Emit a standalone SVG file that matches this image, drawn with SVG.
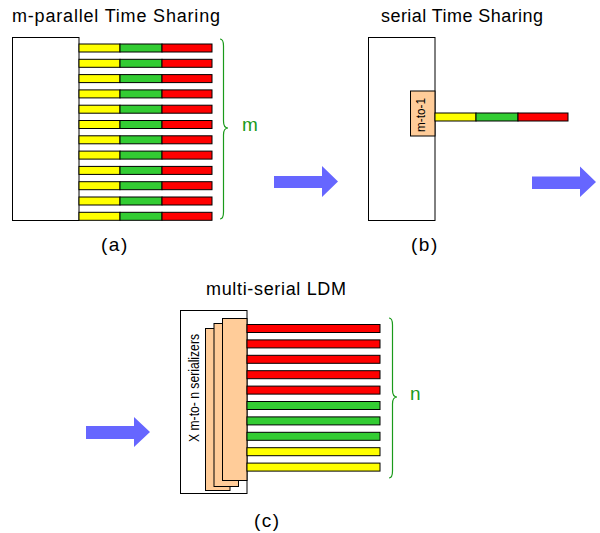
<svg xmlns="http://www.w3.org/2000/svg" width="600" height="533" viewBox="0 0 600 533">
<defs>
<style>
.t{font-family:"Liberation Sans",Arial,sans-serif;fill:#000}
.lab{font-family:"Liberation Sans",Arial,sans-serif;fill:#000;font-size:19px;letter-spacing:1.5px}
.box{fill:#fff;stroke:#000;stroke-width:1}
.y{fill:#ffff00;stroke:#000;stroke-width:1}
.g{fill:#33cc33;stroke:#000;stroke-width:1}
.r{fill:#ff0000;stroke:#000;stroke-width:1}
.pe{fill:#ffcc99;stroke:#000;stroke-width:1}
.br{fill:none;stroke:#1a9a1a;stroke-width:1.2}
.ar{fill:#6666ff}
</style>
<g id="barA">
<rect class="y" x="79" y="0" width="41" height="8"/>
<rect class="g" x="120" y="0" width="42" height="8"/>
<rect class="r" x="162" y="0" width="50" height="8"/>
</g>
</defs>
<rect width="600" height="533" fill="#fff"/>

<g id="panel-a">
<text class="t" x="12" y="22" font-size="18" textLength="208" lengthAdjust="spacing">m-parallel Time Sharing</text>
<rect class="box" x="12.5" y="37.5" width="66.5" height="183"/>
<use href="#barA" y="44"/>
<use href="#barA" y="59.3"/>
<use href="#barA" y="74.6"/>
<use href="#barA" y="89.9"/>
<use href="#barA" y="105.2"/>
<use href="#barA" y="120.5"/>
<use href="#barA" y="135.8"/>
<use href="#barA" y="151.1"/>
<use href="#barA" y="166.4"/>
<use href="#barA" y="181.7"/>
<use href="#barA" y="197"/>
<use href="#barA" y="212.3"/>
<path class="br" d="M220,39 Q223.5,39 223.5,46 L223.5,121 Q223.5,128 228,128 Q223.5,128 223.5,135 L223.5,212 Q223.5,219 220,219"/>
<text x="242" y="131" font-size="19" font-family="Liberation Sans,Arial,sans-serif" fill="#1a9a1a">m</text>
<text class="lab" x="101" y="251">(a)</text>
</g>

<g id="panel-b">
<text class="t" x="381" y="22" font-size="18" textLength="162" lengthAdjust="spacing">serial Time Sharing</text>
<rect class="box" x="368.5" y="37.5" width="66.5" height="183"/>
<rect class="pe" x="410.5" y="91" width="24.5" height="45"/>
<text class="t" transform="translate(424.5,132) rotate(-90)" font-size="13" textLength="34" lengthAdjust="spacingAndGlyphs">m-to-1</text>
<rect class="y" x="435" y="113" width="41" height="8"/>
<rect class="g" x="476" y="113" width="42" height="8"/>
<rect class="r" x="518" y="113" width="50" height="8"/>
<text class="lab" x="411" y="251">(b)</text>
</g>

<g id="connectors">
<path class="ar" d="M274,176 L322,176 L322,166 L338,181.5 L322,197 L322,188 L274,188 Z"/>
<path class="ar" d="M532,176.5 L580,176.5 L580,166.5 L596,182 L580,197 L580,189 L532,189 Z"/>
<path class="ar" d="M86,426 L134,426 L134,417 L150,432 L134,447 L134,439 L86,439 Z"/>
</g>

<g id="panel-c">
<text class="t" x="206" y="295" font-size="18" textLength="140" lengthAdjust="spacing">multi-serial LDM</text>
<rect class="box" x="180.5" y="310.5" width="66.5" height="183"/>
<rect class="pe" x="205.5" y="328.5" width="24.5" height="162"/>
<rect class="pe" x="214" y="323.5" width="24.5" height="163"/>
<rect class="pe" x="222.5" y="318.5" width="24.5" height="162"/>
<text class="t" transform="translate(199,442) rotate(-90)" font-size="14" textLength="108" lengthAdjust="spacingAndGlyphs">X m-to- n serializers</text>
<rect class="r" x="247" y="324.5" width="133" height="8"/>
<rect class="r" x="247" y="339.9" width="133" height="8"/>
<rect class="r" x="247" y="355.3" width="133" height="8"/>
<rect class="r" x="247" y="370.7" width="133" height="8"/>
<rect class="r" x="247" y="386.1" width="133" height="8"/>
<rect class="g" x="247" y="401.5" width="133" height="8"/>
<rect class="g" x="247" y="416.9" width="133" height="8"/>
<rect class="g" x="247" y="432.3" width="133" height="8"/>
<rect class="y" x="247" y="447.7" width="133" height="8"/>
<rect class="y" x="247" y="463.1" width="133" height="8"/>
<path class="br" d="M389,318 Q392.5,318 392.5,325 L392.5,390 Q392.5,397 397,397 Q392.5,397 392.5,404 L392.5,471 Q392.5,478 389,478"/>
<text x="410" y="400" font-size="19" font-family="Liberation Sans,Arial,sans-serif" fill="#1a9a1a">n</text>
<text class="lab" x="254" y="527">(c)</text>
</g>
</svg>
